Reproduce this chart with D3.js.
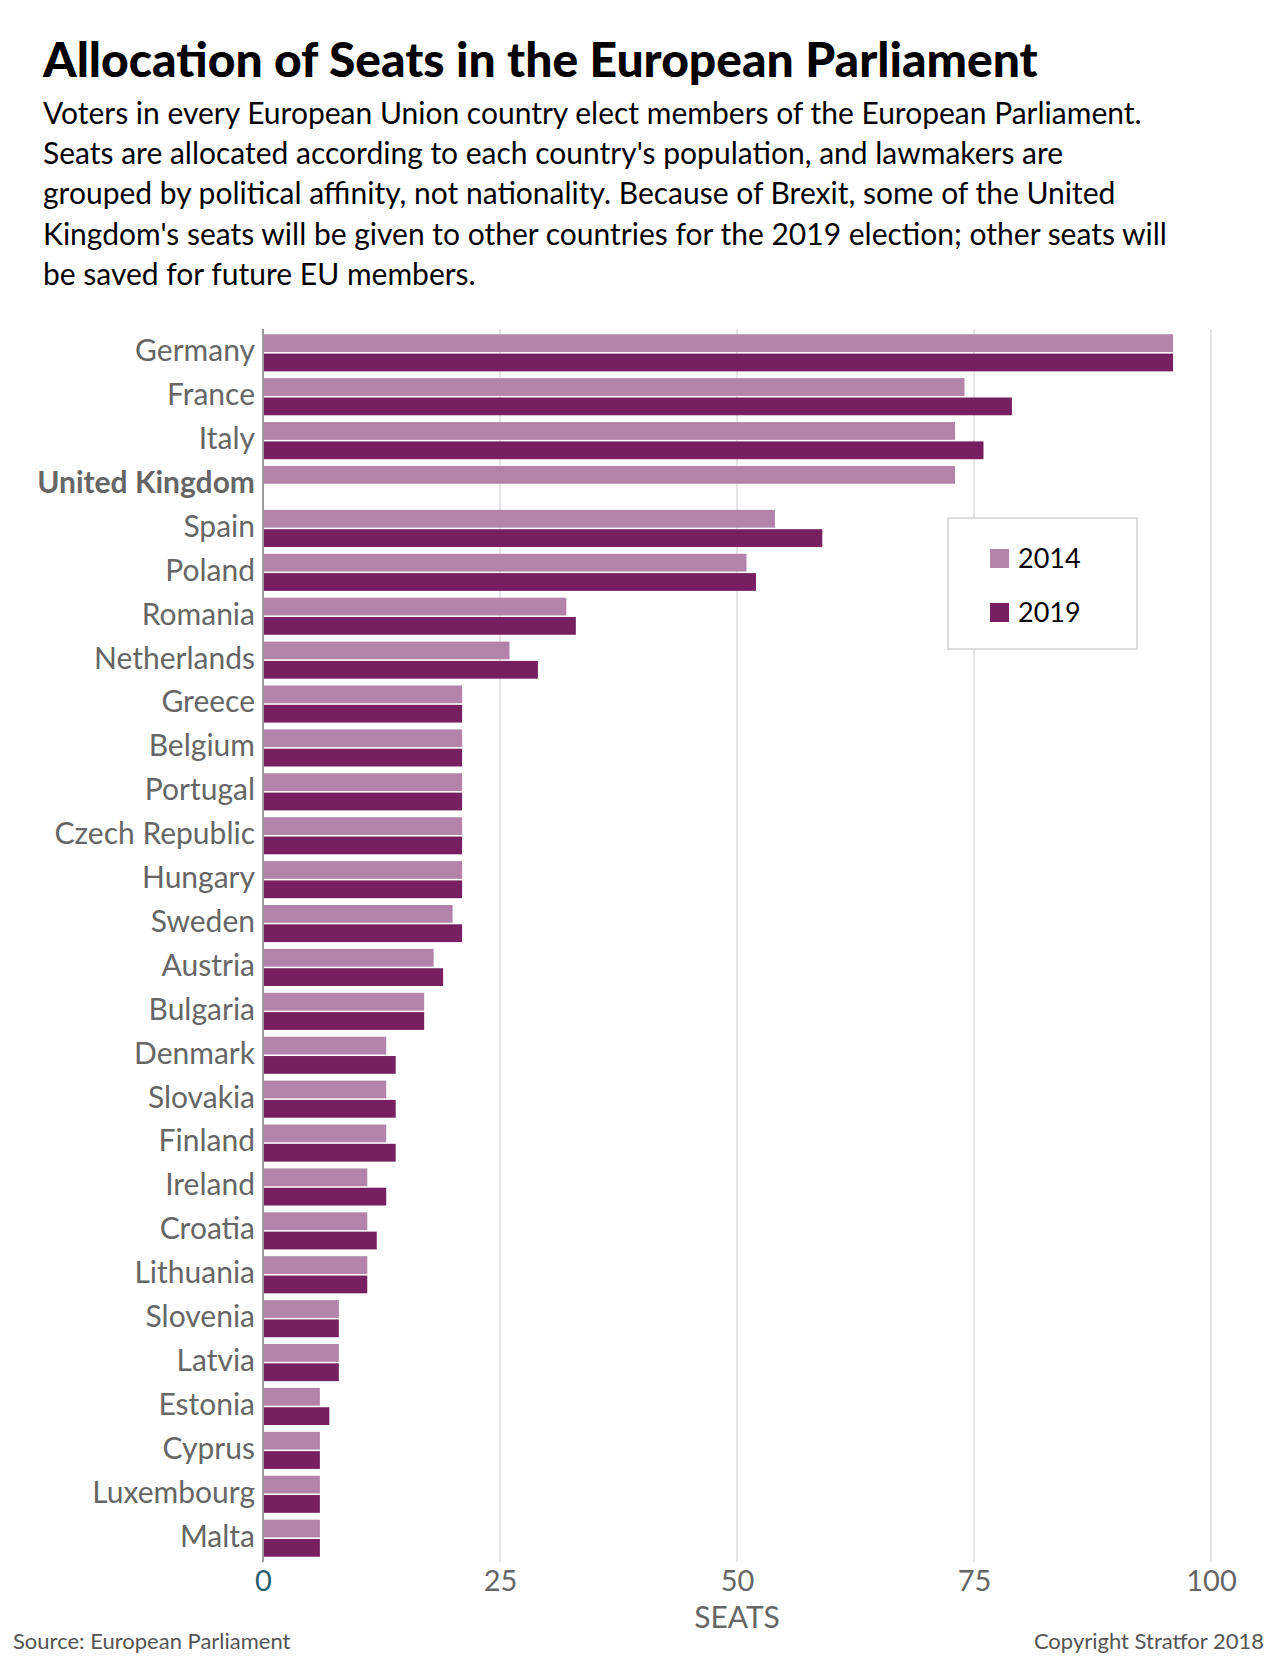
<!DOCTYPE html>
<html>
<head>
<meta charset="utf-8">
<script src="https://cdn.jsdelivr.net/npm/d3@7"></script>
<style>
  body { margin: 0; background: #fff; }
  text { font-family: Lato, "Open Sans", sans-serif; }
</style>
</head>
<body>
<div id="chart"></div>
<script>
// countries, top to bottom
const countries = ["Germany", "France", "Italy", "United Kingdom", "Spain", "Poland", "Romania",
  "Netherlands", "Greece", "Belgium", "Portugal", "Czech Republic", "Hungary", "Sweden", "Austria",
  "Bulgaria", "Denmark", "Slovakia", "Finland", "Ireland", "Croatia", "Lithuania", "Slovenia",
  "Latvia", "Estonia", "Cyprus", "Luxembourg", "Malta"];

const seats2014 = [96, 74, 73, 73, 54, 51, 32, 26, 21, 21, 21, 21, 21, 20, 18, 17, 13, 13, 13, 11, 11, 11, 8, 8, 6, 6, 6, 6];
const seats2019 = [96, 79, 76, null, 59, 52, 33, 29, 21, 21, 21, 21, 21, 21, 19, 17, 14, 14, 14, 13, 12, 11, 8, 8, 7, 6, 6, 6];

const years = ["2014", "2019"];
const xTicks = [0, 25, 50, 75, 100];

const subtitleLines = [
  "Voters in every European Union country elect members of the European Parliament.",
  "Seats are allocated according to each country's population, and lawmakers are",
  "grouped by political affinity, not nationality. Because of Brexit, some of the United",
  "Kingdom's seats will be given to other countries for the 2019 election; other seats will",
  "be saved for future EU members."
];

const W = 1280, H = 1668;
const margin = { top: 329, right: 69, bottom: 106, left: 263 };

const svg = d3.select("#chart").append("svg")
  .attr("width", W).attr("height", H);

// title + subtitle
svg.append("text")
  .attr("x", 43).attr("y", 77)
  .attr("font-size", 48).attr("font-weight", 900)
  .attr("fill", "#000")
  .text("Allocation of Seats in the European Parliament");

svg.append("g").selectAll("text")
  .data(subtitleLines)
  .join("text")
  .attr("x", 43)
  .attr("y", (d, i) => 124 + i * 40.2)
  .attr("font-size", 30)
  .attr("fill", "#000")
  .text(d => d);

const data = countries.map((c, i) => ({ country: c, values: [seats2014[i], seats2019[i]] }));

const x = d3.scaleLinear()
  .domain([0, 100])
  .range([margin.left, W - margin.right]);

const y = d3.scaleBand()
  .domain(countries)
  .range([margin.top, H - margin.bottom])
  .paddingInner(0.155)
  .paddingOuter(0.12);

const ySub = d3.scaleBand()
  .domain(years)
  .range([0, y.bandwidth()])
  .paddingInner(0.08);

const color = d3.scaleOrdinal()
  .domain(years)
  .range(["#b383aa", "#781f62"]);

// gridlines
svg.append("g").selectAll("line")
  .data(xTicks.filter(d => d > 0))
  .join("line")
  .attr("x1", d => x(d)).attr("x2", d => x(d))
  .attr("y1", margin.top).attr("y2", H - margin.bottom)
  .attr("stroke", "#cccccc").attr("stroke-width", 1);

// bars
svg.append("g").selectAll("g")
  .data(data)
  .join("g")
  .attr("transform", d => `translate(0,${y(d.country)})`)
  .selectAll("rect")
  .data(d => years.map((k, i) => ({ key: k, value: d.values[i] })).filter(e => e.value != null))
  .join("rect")
  .attr("x", x(0))
  .attr("y", d => ySub(d.key))
  .attr("width", d => x(d.value) - x(0))
  .attr("height", ySub.bandwidth())
  .attr("fill", d => color(d.key));

// zero axis line
svg.append("line")
  .attr("x1", x(0)).attr("x2", x(0))
  .attr("y1", margin.top).attr("y2", H - margin.bottom)
  .attr("stroke", "#999").attr("stroke-width", 2);

// country labels
svg.append("g").selectAll("text")
  .data(countries)
  .join("text")
  .attr("x", x(0) - 8)
  .attr("y", d => y(d) + y.bandwidth() / 2)
  .attr("dy", "0.28em")
  .attr("text-anchor", "end")
  .attr("font-size", 30)
  .attr("font-weight", d => d === "United Kingdom" ? 700 : 400)
  .attr("fill", "#666")
  .text(d => d);

// x axis
const xAxis = svg.append("g")
  .attr("transform", `translate(0,${H - margin.bottom})`)
  .call(d3.axisBottom(x).tickValues(xTicks).tickSize(0).tickPadding(8));
xAxis.select(".domain").remove();
xAxis.selectAll("text")
  .attr("font-family", "Lato, sans-serif")
  .attr("font-size", 29)
  .attr("fill", d => d === 0 ? "#2a5f70" : "#666");

svg.append("text")
  .attr("x", x(50)).attr("y", 1628)
  .attr("text-anchor", "middle")
  .attr("font-size", 30).attr("fill", "#666")
  .text("SEATS");

// footer
svg.append("text")
  .attr("x", 13).attr("y", 1649)
  .attr("font-size", 22).attr("fill", "#555")
  .text("Source: European Parliament");
svg.append("text")
  .attr("x", 1264).attr("y", 1649)
  .attr("text-anchor", "end")
  .attr("font-size", 22).attr("fill", "#555")
  .text("Copyright Stratfor 2018");

// legend
const legend = svg.append("g").attr("transform", "translate(948,518)");
legend.append("rect")
  .attr("width", 189).attr("height", 131)
  .attr("fill", "#fff").attr("stroke", "#bbb").attr("stroke-width", 1);
const li = legend.selectAll("g.item")
  .data(years)
  .join("g")
  .attr("class", "item")
  .attr("transform", (d, i) => `translate(42,${31 + i * 54})`);
li.append("rect")
  .attr("width", 19).attr("height", 19)
  .attr("fill", d => color(d));
li.append("text")
  .attr("x", 28).attr("y", 19)
  .attr("font-size", 27).attr("fill", "#000")
  .text(d => d);
</script>
</body>
</html>
